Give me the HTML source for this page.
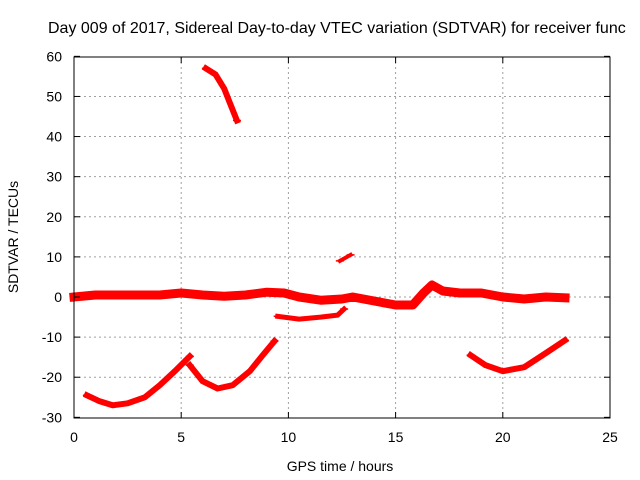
<!DOCTYPE html>
<html><head><meta charset="utf-8"><style>
body{margin:0;background:#fff;width:640px;height:480px;overflow:hidden}
svg{display:block;font-family:"Liberation Sans",sans-serif}
</style></head><body>
<svg id="c" width="640" height="480">
<text x="48" y="33" font-size="16" fill="#000">Day 009 of 2017, Sidereal Day-to-day VTEC variation (SDTVAR) for receiver func</text>
<text x="340" y="471" font-size="14" text-anchor="middle">GPS time / hours</text>
<text transform="translate(18,237) rotate(-90)" font-size="14" text-anchor="middle">SDTVAR / TECUs</text>
<g id="grid"></g><g id="marks"></g>
<rect x="74" y="57" width="536" height="361" fill="none" stroke="#000" stroke-width="1"/>
<g id="ticks"></g>
</svg>
<script>
const xTicks=[0,5,10,15,20,25];
const yTicks=[-30,-20,-10,0,10,20,30,40,50,60];
const mainBandX=[0,1,2,3,4,5,6,7,8,9,9.8,10.5,11.5,12.5,13,14,15,15.8,16.3,16.7,17.2,18,19,20,21,22,22.9];
const mainBandY=[0,0.5,0.5,0.5,0.5,1,0.5,0.2,0.5,1.2,1,0,-0.8,-0.5,0,-1,-2,-2,1,3,1.5,1,1,0,-0.5,0,-0.2];
const lowBandX=[9.5,10.5,11.5,12.3,12.6];
const lowBandY=[-4.8,-5.5,-5,-4.5,-3];
const smallX=[12.4,12.9];
const smallY=[9,10.5];
const upperX=[6.15,6.6,7,7.3,7.6];
const upperY=[57,55.5,52,48,44];
const arc1X=[0.6,1.2,1.8,2.5,3.3,4,4.7,5.4];
const arc1Y=[-24.5,-26,-27,-26.5,-25,-22,-18.5,-14.8];
const arc2X=[5.4,6,6.7,7.4,8.2,8.8,9.35];
const arc2Y=[-17,-21,-22.8,-22,-18.5,-14.5,-11];
const arc3X=[18.5,19.2,20,21,22,22.9];
const arc3Y=[-14.5,-17,-18.5,-17.5,-14,-10.8];
const NS='http://www.w3.org/2000/svg';
const X=h=>74+h*536/25, Y=v=>297-v*361/90;
const grid=document.getElementById('grid'),ticks=document.getElementById('ticks'),marks=document.getElementById('marks');
function mk(tag,a,p){const e=document.createElementNS(NS,tag);for(const k in a)e.setAttribute(k,a[k]);p.appendChild(e);return e;}
xTicks.forEach(t=>{const x=X(t);
 if(t>0&&t<25){const g=mk('line',{x1:x,x2:x,y1:57,y2:418,stroke:'#a0a0a0','stroke-dasharray':'2,3'},grid);
 
 }
 mk('line',{x1:x,x2:x,y1:418,y2:412,stroke:'#000'},ticks);mk('line',{x1:x,x2:x,y1:57,y2:63,stroke:'#000'},ticks);
 const l=mk('text',{x:x,y:442,'font-size':14,'text-anchor':'middle'},ticks);l.textContent=t;
 
 });
yTicks.forEach(t=>{const y=Y(t);
 if(t>-30&&t<60){const g=mk('line',{x1:74,x2:610,y1:y,y2:y,stroke:'#a0a0a0','stroke-dasharray':'2,3'},grid);
 
 }
 mk('line',{x1:74,x2:80,y1:y,y2:y,stroke:'#000'},ticks);mk('line',{x1:610,x2:604,y1:y,y2:y,stroke:'#000'},ticks);
 const l=mk('text',{x:62,y:y+5,'font-size':14,'text-anchor':'end'},ticks);l.textContent=t;
 
 });
function series(xs,ys,w,name){
 const pts=xs.map((x,i)=>X(x).toFixed(1)+','+Y(ys[i]).toFixed(1)).join(' ');
 const p=mk('polyline',{points:pts,fill:'none',stroke:'#f00','stroke-width':w,'stroke-linejoin':'round','stroke-linecap':'square'},marks);
 
 
 [0,xs.length-1].forEach(i=>{const x=X(xs[i]),y=Y(ys[i]);
  mk('line',{x1:x-4,x2:x+4,y1:y,y2:y,stroke:'#f00','stroke-width':1.5},marks);});
}
series(mainBandX,mainBandY,9,'main-band-series');
series(lowBandX,lowBandY,5,'low-band-series');
series(smallX,smallY,4,'small-segment-series');
series(upperX,upperY,6,'upper-segment-series');
series(arc1X,arc1Y,6,'arc-1-series');
series(arc2X,arc2Y,6,'arc-2-series');
series(arc3X,arc3Y,6,'arc-3-series');
</script>
</body></html>
